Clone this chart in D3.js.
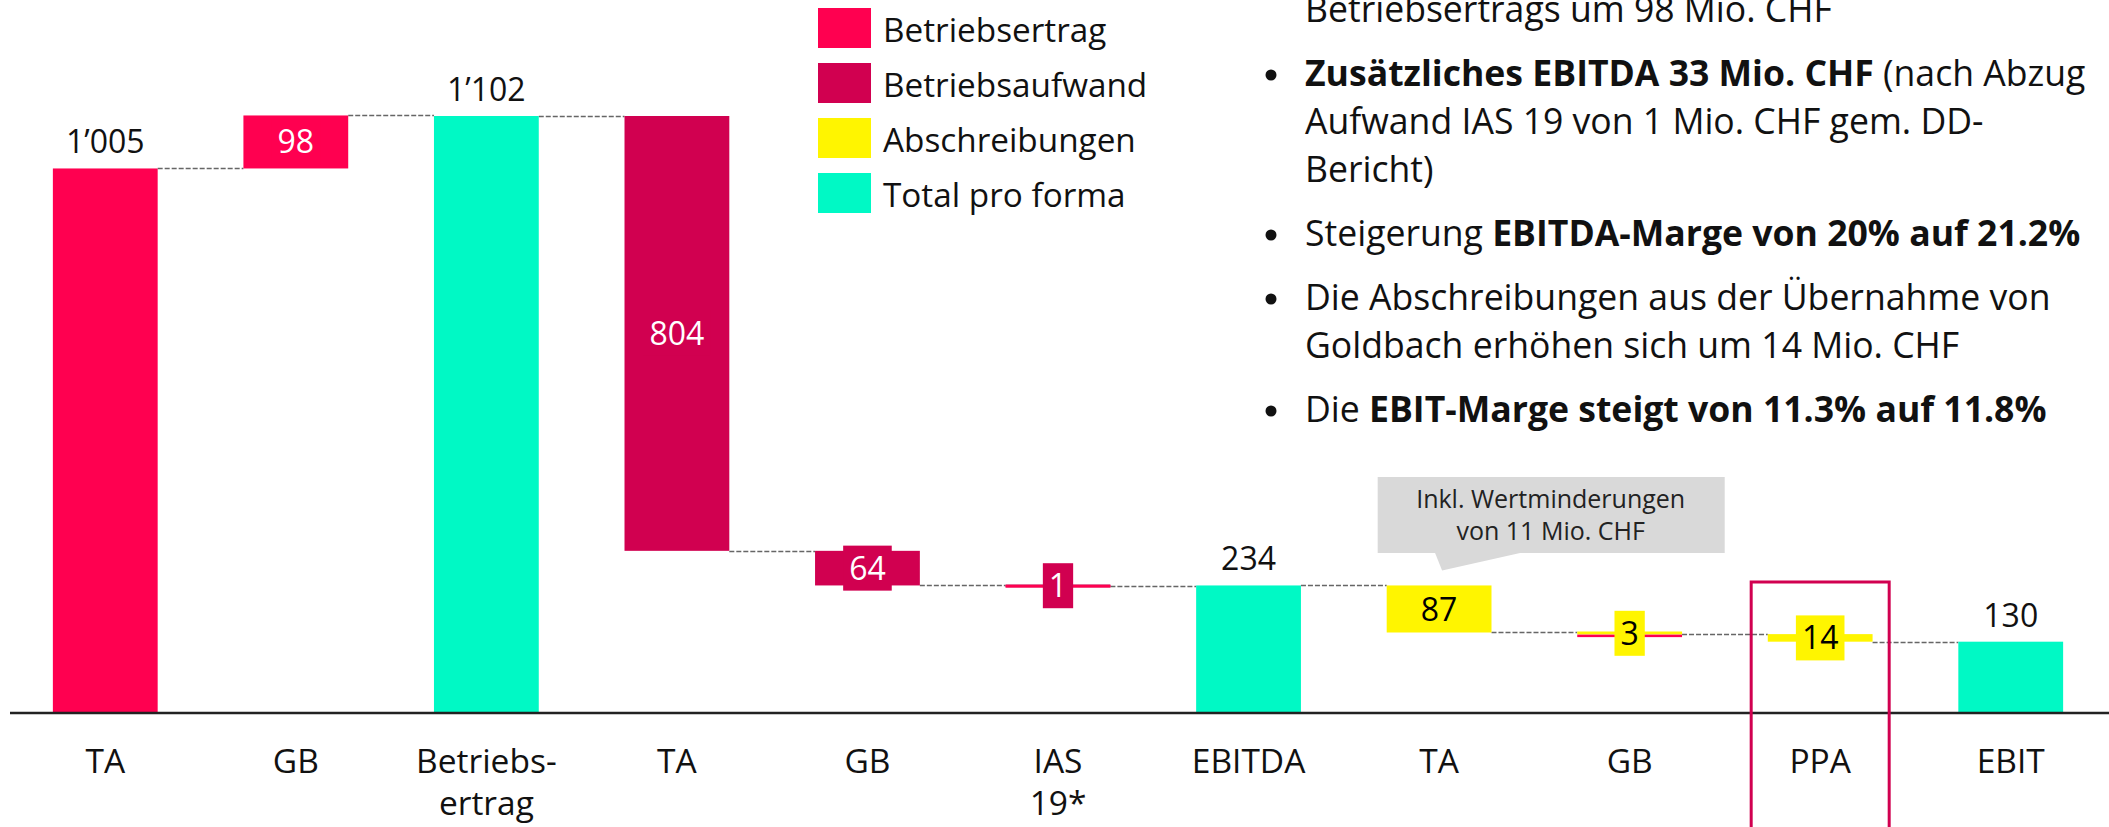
<!DOCTYPE html>
<html>
<head>
<meta charset="utf-8">
<script src="https://cdn.jsdelivr.net/npm/d3@7"></script>
<style>
  body { margin: 0; background: #fff; }
  text { font-family: "Open Sans", "Noto Sans", sans-serif; }
</style>
</head>
<body>
<script>
const w = 2109;
const h = 827;

// waterfall data
const categories = ['TA', 'GB', 'Betriebs-ertrag', 'TA2', 'GB2', 'IAS 19*', 'EBITDA', 'TA3', 'GB3', 'PPA', 'EBIT'];
const tickLabels = [['TA'], ['GB'], ['Betriebs-', 'ertrag'], ['TA'], ['GB'], ['IAS', '19*'], ['EBITDA'], ['TA'], ['GB'], ['PPA'], ['EBIT']];
const values = [1005, 98, 1102, -804, -64, -1, 234, -87, -3, -14, 130];
const types = ['ertrag', 'ertrag', 'total', 'aufwand', 'aufwand', 'aufwand', 'total', 'abschr', 'abschr', 'abschr', 'total'];
const valueLabels = ['1’005', '98', '1’102', '804', '64', '1', '234', '87', '3', '14', '130'];

const legendKeys = ['ertrag', 'aufwand', 'abschr', 'total'];
const legendLabels = ['Betriebsertrag', 'Betriebsaufwand', 'Abschreibungen', 'Total pro forma'];

const calloutLines = ['Inkl. Wertminderungen', 'von 11 Mio. CHF'];
const highlightCategory = 'PPA';

// right hand text: [text, bold] parts per line, bullet marks a new point
const bulletLines = [
  { bullet: false, parts: [['Betriebsertrags um 98 Mio. CHF', false]] },
  { bullet: true, parts: [['Zusätzliches EBITDA 33 Mio. CHF', true], [' (nach Abzug', false]] },
  { bullet: false, parts: [['Aufwand IAS 19 von 1 Mio. CHF gem. DD-', false]] },
  { bullet: false, parts: [['Bericht)', false]] },
  { bullet: true, parts: [['Steigerung ', false], ['EBITDA-Marge von 20% auf 21.2%', true]] },
  { bullet: true, parts: [['Die Abschreibungen aus der Übernahme von', false]] },
  { bullet: false, parts: [['Goldbach erhöhen sich um 14 Mio. CHF', false]] },
  { bullet: true, parts: [['Die ', false], ['EBIT-Marge steigt von 11.3% auf 11.8%', true]] }
];

const colors = {
  ertrag: '#FF0050',
  aufwand: '#D10050',
  abschr: '#FFF500',
  total: '#00F9C5'
};

let xScale
let yScale
let steps

let svg = d3.select('body')
  .append('svg')
  .attr('width', w)
  .attr('height', h);

let buildSteps = () => {
  let run = 0
  steps = values.map((v, i) => {
    let start, end
    if (types[i] === 'total') {
      start = 0; end = v; run = v
    } else {
      start = run; end = run + v; run = end
    }
    return { i: i, cat: categories[i], type: types[i], value: v, start: start, end: end, label: valueLabels[i] }
  })
}

let generateScales = () => {
  xScale = d3.scaleBand()
    .domain(categories)
    .range([10, 2106])
    .paddingInner(0.45)
    .paddingOuter(0.225)
  yScale = d3.scaleLinear()
    .domain([0, 1102])
    .range([712, 116])
}

let drawAxis = () => {
  let xAxis = d3.axisBottom(xScale).tickSize(0).tickFormat('')
  let g = svg.append('g')
    .attr('id', 'x-axis')
    .attr('transform', 'translate(0,' + yScale(0) + ')')
    .call(xAxis)
  g.select('.domain').attr('stroke', '#222').attr('stroke-width', 2.5).attr('d', 'M10,1H2109')

  // multi line tick labels
  g.selectAll('.tick')
    .append('text')
    .attr('fill', '#111')
    .attr('font-size', 33.5)
    .attr('text-anchor', 'middle')
    .each(function (d) {
      let lines = tickLabels[categories.indexOf(d)]
      d3.select(this).selectAll('tspan')
        .data(lines)
        .enter()
        .append('tspan')
        .attr('x', 0)
        .attr('y', (l, k) => 61 + k * 42)
        .text(l => l)
    })
}

let drawConnectors = () => {
  let pairs = steps.slice(0, -1)
  svg.append('g')
    .selectAll('line')
    .data(pairs)
    .enter()
    .append('line')
    .attr('x1', d => xScale(d.cat) + xScale.bandwidth())
    .attr('x2', d => xScale(categories[d.i + 1]))
    .attr('y1', d => Math.round(yScale(d.end)) + 0.5)
    .attr('y2', d => Math.round(yScale(d.end)) + 0.5)
    .attr('stroke', '#666')
    .attr('stroke-width', 1.5)
    .attr('stroke-dasharray', '5,2')
}

let drawBars = () => {
  let bw = xScale.bandwidth()
  let g = svg.append('g')
  g.selectAll('rect.bar')
    .data(steps)
    .enter()
    .append('rect')
    .attr('class', 'bar')
    .attr('x', d => xScale(d.cat))
    .attr('width', bw)
    .attr('y', d => Math.min(yScale(d.start), yScale(d.end)) - (Math.abs(yScale(d.start) - yScale(d.end)) < 3 ? 1 : 0))
    .attr('height', d => Math.max(3, Math.abs(yScale(d.start) - yScale(d.end))))
    .attr('fill', d => colors[d.type])

  // very small changes show as a thin red line
  let tiny = steps.filter(d => d.type !== 'total' && Math.abs(yScale(d.start) - yScale(d.end)) < 3)
  g.selectAll('rect.tiny')
    .data(tiny)
    .enter()
    .append('rect')
    .attr('class', 'tiny')
    .attr('x', d => xScale(d.cat))
    .attr('width', bw)
    .attr('y', d => yScale(d.end) + (d.type === 'abschr' ? 0.5 : -1))
    .attr('height', 2.5)
    .attr('fill', colors.ertrag)

  // label boxes behind values of change bars
  let deltas = steps.filter(d => d.type !== 'total' && d.start !== 0)
  let lg = g.selectAll('g.lbl')
    .data(deltas)
    .enter()
    .append('g')
    .attr('class', 'lbl')
    .attr('transform', d => 'translate(' + (xScale(d.cat) + bw / 2) + ',' + ((yScale(d.start) + yScale(d.end)) / 2) + ')')
  lg.append('text')
    .attr('text-anchor', 'middle')
    .attr('dy', '0.36em')
    .attr('font-size', 32)
    .attr('fill', d => d.type === 'abschr' ? '#000' : '#fff')
    .text(d => d.label)
  lg.each(function () {
    let t = d3.select(this).select('text')
    let tw = t.node().getComputedTextLength()
    d3.select(this).insert('rect', 'text')
      .attr('x', -(tw + 12) / 2)
      .attr('y', -22.5)
      .attr('width', tw + 12)
      .attr('height', 45)
      .attr('fill', d => colors[d.type])
  })

  // totals labels above the bar
  let tops = steps.filter(d => d.start === 0)
  g.selectAll('text.top')
    .data(tops)
    .enter()
    .append('text')
    .attr('class', 'top')
    .attr('x', d => xScale(d.cat) + bw / 2)
    .attr('y', d => yScale(d.end) - 15)
    .attr('text-anchor', 'middle')
    .attr('font-size', 32)
    .attr('fill', '#111')
    .text(d => d.label)
}

let drawHighlight = () => {
  let cx = xScale(highlightCategory) + xScale.bandwidth() / 2
  svg.append('rect')
    .attr('x', cx - 69)
    .attr('y', 582)
    .attr('width', 138)
    .attr('height', 260)
    .attr('fill', 'none')
    .attr('stroke', colors.aufwand)
    .attr('stroke-width', 3)
}

let drawCallout = () => {
  let bar = steps[7]
  let cx = xScale(bar.cat) + xScale.bandwidth() / 2
  let left = xScale(bar.cat) - 9
  let top = 477
  let bh = 76
  let g = svg.append('g')
  g.append('rect')
    .attr('x', left)
    .attr('y', top)
    .attr('width', 347)
    .attr('height', bh)
    .attr('fill', '#D9D9D9')
  g.append('path')
    .attr('d', 'M' + (cx - 4) + ',' + (top + bh) + 'L' + (cx + 3) + ',' + (yScale(bar.start) - 15) + 'L' + (cx + 81) + ',' + (top + bh) + 'Z')
    .attr('fill', '#D9D9D9')
  g.selectAll('text')
    .data(calloutLines)
    .enter()
    .append('text')
    .attr('x', left + 173)
    .attr('y', (d, k) => top + 31 + k * 32)
    .attr('text-anchor', 'middle')
    .attr('font-size', 25)
    .attr('fill', '#222')
    .text(d => d)
}

let drawLegend = () => {
  let g = svg.append('g').attr('transform', 'translate(818,8)')
  let items = g.selectAll('g')
    .data(legendKeys)
    .enter()
    .append('g')
    .attr('transform', (d, k) => 'translate(0,' + k * 55 + ')')
  items.append('rect')
    .attr('width', 53)
    .attr('height', 40)
    .attr('fill', d => colors[d])
  items.append('text')
    .attr('x', 65)
    .attr('y', 34)
    .attr('font-size', 33.3)
    .attr('fill', '#111')
    .text((d, k) => legendLabels[k])
}

let drawBullets = () => {
  let g = svg.append('g')
  let y = 22
  bulletLines.forEach((line, k) => {
    if (k > 0) y += line.bullet ? 64 : 48
    if (line.bullet) {
      g.append('circle')
        .attr('cx', 1271)
        .attr('cy', y - 11)
        .attr('r', 5.5)
        .attr('fill', '#111')
    }
    let t = g.append('text')
      .attr('x', 1305)
      .attr('y', y)
      .attr('font-size', 35.6)
      .attr('fill', '#111')
    line.parts.forEach(p => {
      t.append('tspan')
        .attr('font-weight', p[1] ? 700 : 400)
        .text(p[0])
    })
  })
}

buildSteps()
generateScales()
drawConnectors()
drawBars()
drawAxis()
drawHighlight()
drawCallout()
drawLegend()
drawBullets()
</script>
</body>
</html>
